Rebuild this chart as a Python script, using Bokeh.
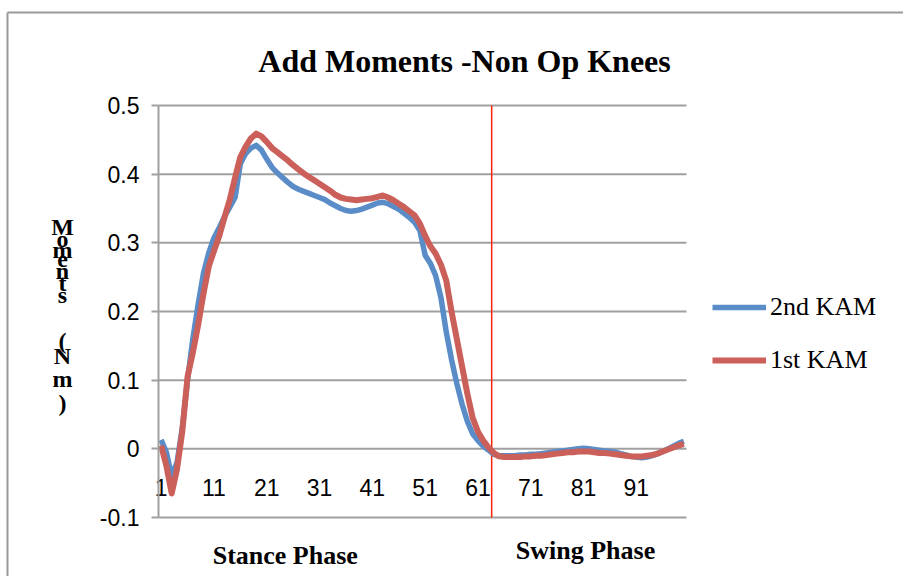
from bokeh.plotting import figure
from bokeh.models import Range1d, Legend, LegendItem, Label, FixedTicker
from bokeh.embed import file_html
from bokeh.resources import INLINE
from bokeh.core.properties import value

# ---------------- data ----------------
frames = list(range(1, 101))

kam_2nd = [
    0.013, -0.005, -0.040, -0.020, 0.030, 0.100, 0.160, 0.210, 0.255, 0.285,
    0.307, 0.322, 0.338, 0.352, 0.366, 0.415, 0.430, 0.438, 0.442, 0.435,
    0.422, 0.410, 0.402, 0.395, 0.388, 0.382, 0.378, 0.375, 0.372, 0.369,
    0.366, 0.363, 0.358, 0.354, 0.350, 0.347, 0.346, 0.347, 0.349, 0.352,
    0.355, 0.358, 0.359, 0.357, 0.353, 0.349, 0.343, 0.337, 0.330, 0.318,
    0.282, 0.270, 0.252, 0.220, 0.170, 0.130, 0.095, 0.065, 0.040, 0.022,
    0.012, 0.004, -0.002, -0.008, -0.010, -0.010, -0.010, -0.010, -0.009, -0.009,
    -0.008, -0.008, -0.007, -0.006, -0.005, -0.004, -0.003, -0.002, -0.001, 0.000,
    0.001, 0.000, -0.001, -0.002, -0.003, -0.004, -0.005, -0.007, -0.009, -0.011,
    -0.012, -0.013, -0.012, -0.010, -0.007, -0.004, 0.000, 0.004, 0.008, 0.011,
]

kam_1st = [
    0.005, -0.025, -0.065, -0.030, 0.025, 0.105, 0.140, 0.180, 0.225, 0.265,
    0.288, 0.310, 0.337, 0.363, 0.395, 0.425, 0.440, 0.452, 0.459, 0.455,
    0.447, 0.438, 0.432, 0.426, 0.420, 0.413, 0.407, 0.401, 0.396, 0.391,
    0.386, 0.381, 0.376, 0.370, 0.366, 0.364, 0.363, 0.362, 0.363, 0.364,
    0.365, 0.367, 0.369, 0.366, 0.362, 0.357, 0.352, 0.346, 0.340, 0.328,
    0.310, 0.295, 0.284, 0.268, 0.245, 0.200, 0.160, 0.120, 0.080, 0.045,
    0.025, 0.012, 0.002, -0.006, -0.011, -0.012, -0.012, -0.012, -0.012, -0.011,
    -0.011, -0.010, -0.010, -0.009, -0.008, -0.007, -0.006, -0.005, -0.005, -0.004,
    -0.004, -0.004, -0.005, -0.006, -0.006, -0.007, -0.008, -0.009, -0.010, -0.011,
    -0.011, -0.011, -0.010, -0.009, -0.007, -0.004, -0.001, 0.002, 0.005, 0.007,
]

series_names = ["2nd KAM", "1st KAM"]
x_tick_values = [1, 11, 21, 31, 41, 51, 61, 71, 81, 91]
x_tick_labels = ["1", "11", "21", "31", "41", "51", "61", "71", "81", "91"]
y_ticks = [-0.1, 0.0, 0.1, 0.2, 0.3, 0.4, 0.5]
y_tick_labels = ["-0.1", "0", "0.1", "0.2", "0.3", "0.4", "0.5"]
phase_boundary = 63.6
title_text = "Add Moments -Non Op Knees"
y_label_text = "Moments (Nm)"
phase_labels = ["Stance  Phase", "Swing Phase"]

# ---------------- layout ----------------
W, H = 903, 576
FL, FR, FT, FB = 158, 686, 105, 517       # plot-area edges (canvas pixels)
XMIN, XMAX, YMIN, YMAX = 0.5, 100.5, -0.1, 0.5


def dx(px):
    return XMIN + (px - FL) / (FR - FL) * (XMAX - XMIN)


def dy(py):
    return YMIN + (FB - py) / (FB - FT) * (YMAX - YMIN)


BLUE = "#5A8CC7"
RED = "#CB5F59"
GRID = "#A0A0A0"
BORDER = "#9A9A9A"
SERIF = "Liberation Serif"
SANS = "Liberation Sans"

# the frame covers the whole canvas so that texts outside the plot area are not clipped
p = figure(width=W, height=H,
           x_range=Range1d(dx(0), dx(W)), y_range=Range1d(dy(H), dy(0)),
           output_backend="svg", toolbar_location=None,
           min_border_left=0, min_border_right=0, min_border_top=0, min_border_bottom=0)
p.title.visible = False
p.outline_line_color = None
p.background_fill_color = "white"
p.border_fill_color = "white"
p.xaxis.visible = False
p.xgrid.visible = False
p.ygrid.visible = False

# chart border (left and top edges are visible)
p.segment(x0=[dx(7), dx(7)], y0=[dy(12), dy(12)], x1=[dx(7), dx(W + 20)], y1=[dy(H + 20), dy(12)],
          line_color=BORDER, line_width=2)

# value axis, fixed at the left edge of the plot area
yax = p.yaxis[0]
yax.fixed_location = XMIN
yax.bounds = (YMIN, YMAX)
yax.ticker = FixedTicker(ticks=y_ticks)
yax.major_label_overrides = dict(zip(y_ticks, y_tick_labels))
yax.axis_line_color = GRID
yax.axis_line_width = 2
yax.major_tick_line_color = GRID
yax.major_tick_line_width = 2
yax.major_tick_in = 0
yax.major_tick_out = 7
yax.minor_tick_line_color = None
yax.major_label_text_font = SANS
yax.major_label_text_font_size = "23px"
yax.major_label_text_color = "black"
yax.major_label_standoff = 12

# horizontal gridlines across the plot area
p.segment(x0=XMIN, x1=XMAX, y0=y_ticks, y1=y_ticks, line_color=GRID, line_width=2)

# category labels along the zero line
p.text(x=x_tick_values, y=dy(487), text=x_tick_labels,
       text_font=value(SANS), text_font_size="23px", text_color="black",
       text_align="center", text_baseline="middle")

# phase boundary
p.segment(x0=[phase_boundary], x1=[phase_boundary], y0=YMIN, y1=YMAX,
          line_color="#FF2200", line_width=1.5)

# series
r_blue = p.line(frames, kam_2nd, line_color=BLUE, line_width=5.5, line_join="round")
r_red = p.line(frames, kam_1st, line_color=RED, line_width=6, line_join="round")

legend = Legend(items=[LegendItem(label=series_names[0], renderers=[r_blue]),
                       LegendItem(label=series_names[1], renderers=[r_red])],
                location=(712, H - 375),
                padding=0, margin=0, spacing=23,
                glyph_width=54, glyph_height=24, label_height=24,
                label_standoff=4,
                label_text_font=SERIF, label_text_font_size="26px",
                label_text_color="black",
                border_line_color=None, background_fill_alpha=0)
p.add_layout(legend)

# title
p.add_layout(Label(x=dx(464), y=dy(60), text=title_text,
                   text_font=SERIF, text_font_style="bold", text_font_size="32px",
                   text_align="center", text_baseline="middle", text_color="black"))

# stacked y-axis label
ylab_chars = [c for c in y_label_text if c != " "]
ylab_px = [226, 238, 249, 259, 270, 282, 294, 340, 355, 378, 402]
for ch, py in zip(ylab_chars, ylab_px):
    p.add_layout(Label(x=dx(62), y=dy(py), text=ch,
                       text_font=SERIF, text_font_style="bold", text_font_size="24px",
                       text_align="center", text_baseline="middle", text_color="black"))

# phase labels
p.add_layout(Label(x=dx(288), y=dy(555), text=phase_labels[0],
                   text_font=SERIF, text_font_style="bold", text_font_size="26px",
                   text_align="center", text_baseline="middle", text_color="black"))
p.add_layout(Label(x=dx(585), y=dy(550), text=phase_labels[1],
                   text_font=SERIF, text_font_style="bold", text_font_size="26px",
                   text_align="center", text_baseline="middle", text_color="black"))

open("out.html", "w").write(file_html(p, INLINE))
